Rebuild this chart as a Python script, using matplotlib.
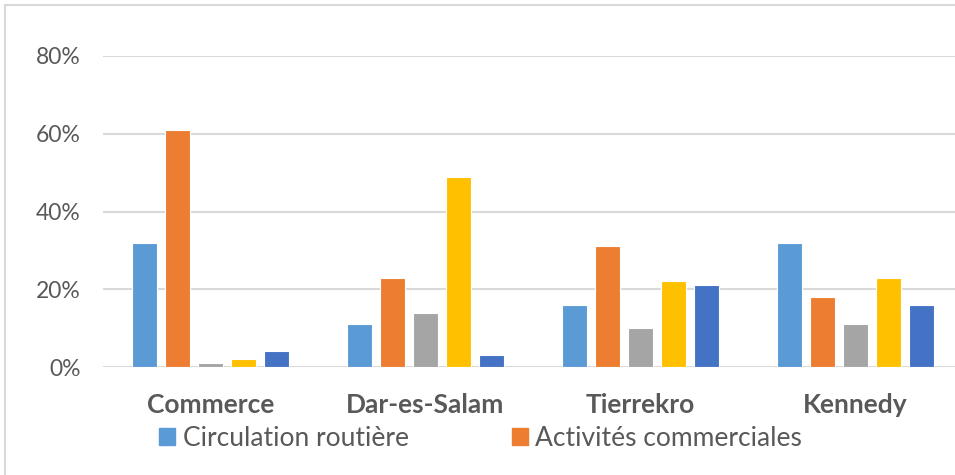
import matplotlib.pyplot as plt
import matplotlib.patches as mpatches
import numpy as np

# Données
quartiers = ['Commerce', 'Dar-es-Salam', 'Tierrekro', 'Kennedy']
circulation = [0.32, 0.11, 0.16, 0.32]
commerciales = [0.61, 0.23, 0.31, 0.18]
serie3 = [0.01, 0.14, 0.10, 0.11]
serie4 = [0.02, 0.49, 0.22, 0.23]
serie5 = [0.04, 0.03, 0.21, 0.16]
legende = ['Circulation routière', 'Activités commerciales']
yticks = [0, 0.2, 0.4, 0.6, 0.8]

couleurs = ['#5B9BD5', '#ED7D31', '#A5A5A5', '#FFC000', '#4472C4']
series = [circulation, commerciales, serie3, serie4, serie5]

W, H = 955, 475
fig = plt.figure(figsize=(W / 100, H / 100), dpi=100)
plt.rcParams['font.family'] = ['Lato', 'DejaVu Sans']

# cadre gris du graphique
fig.patches.append(mpatches.Rectangle((5 / W, -0.1), 1.2, 1 - 5 / H + 0.1,
                                      transform=fig.transFigure, fill=False,
                                      edgecolor='#D9D9D9', linewidth=1.5))

ax = fig.add_axes([103 / W, 1 - 367 / H, 860 / W, (367 - 56) / H])

x = np.arange(len(quartiers))
pas = 0.1535
largeur = 0.117
for i, (vals, c) in enumerate(zip(series, couleurs)):
    ax.bar(x + (i - 2) * pas, vals, largeur, color=c, edgecolor='white',
           linewidth=0.8, zorder=3)

ax.set_xlim(-0.5, 3.5)
ax.set_ylim(0, 0.8)
ax.set_yticks(yticks)
ax.set_yticklabels([f'{int(round(v * 100))}%' for v in yticks])
ax.set_xticks(x)
ax.set_xticklabels(quartiers, fontweight='bold', fontsize=19, color='#595959')
ax.tick_params(axis='x', length=0, pad=19)
ax.tick_params(axis='y', length=0, pad=16, labelsize=16.5, labelcolor='#595959')
ax.grid(axis='y', color='#D9D9D9', linewidth=1.5, zorder=0)
for s in ax.spines.values():
    s.set_visible(False)

poignees = [mpatches.Patch(color=couleurs[0]), mpatches.Patch(color=couleurs[1])]
fig.legend(poignees, legende, loc='center left',
           bbox_to_anchor=(159 / W, 1 - 438 / H), ncol=2, frameon=False,
           fontsize=19, handlelength=0.6, handleheight=0.6, handletextpad=0.3,
           columnspacing=3.9, borderpad=0, borderaxespad=0,
           labelcolor='#595959')

fig.savefig('out.png', dpi=100)
